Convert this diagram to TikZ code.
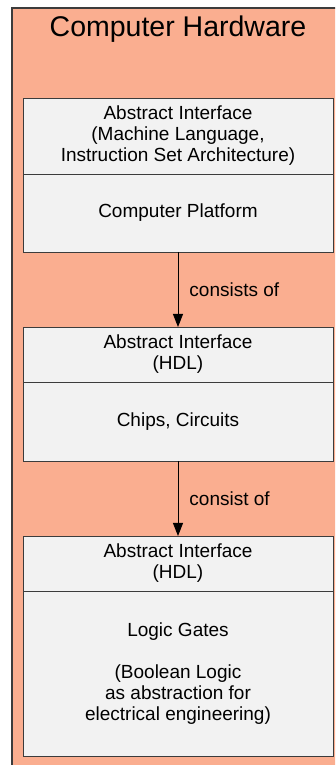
\documentclass[tikz,border=0pt]{standalone}
\usepackage{fontspec}
\setmainfont{Liberation Sans}
\usepackage{xcolor}
\usetikzlibrary{arrows.meta, positioning}
\definecolor{hwbg}{RGB}{250,174,144}
\definecolor{boxbg}{RGB}{242,242,242}
\definecolor{edgegray}{RGB}{60,60,60}

\begin{document}
\begin{tikzpicture}[
    x=1pt, y=1pt,
    node distance=75pt,
    layer/.style={rectangle, draw=edgegray, fill=hwbg, line width=1.3pt},
    part/.style={rectangle, draw=edgegray, fill=boxbg, line width=0.9pt, minimum width=310pt, align=center, font=\fontsize{19}{21}\selectfont, inner sep=0pt, outer sep=0pt},
    arrow/.style={-{Triangle[width=10pt,length=13pt]}, line width=0.9pt},
    lbl/.style={font=\fontsize{19}{21}\selectfont, inner sep=11pt}
]
    \useasboundingbox (0,0) rectangle (335,765);
    \clip (0,0) rectangle (335,765);

    % Outer frame
    \draw[layer] (12,757) rectangle (350,-10);
    \node[font=\fontsize{28.5}{32}\selectfont] (title) at (178,736) {Computer Hardware};

    % Computer platform
    \node[part, minimum height=76pt, anchor=north] (head1) at (178,667) {Abstract Interface\\(Machine Language,\\Instruction Set Architecture)};
    \node[part, minimum height=78pt, below=0pt of head1] (body1) {Computer Platform};

    % Chips
    \node[part, minimum height=55pt, below=of body1] (head2) {Abstract Interface\\(HDL)};
    \node[part, minimum height=79pt, below=0pt of head2] (body2) {Chips, Circuits};

    % Logic gates
    \node[part, minimum height=55pt, below=of body2] (head3) {Abstract Interface\\(HDL)};
    \node[part, minimum height=165pt, below=0pt of head3] (body3) {Logic Gates\\[21pt](Boolean Logic\\as abstraction for\\electrical engineering)};

    % Connections
    \draw[arrow] (body1) -- node[lbl, right] {consists of} (head2);
    \draw[arrow] (body2) -- node[lbl, right] {consist of} (head3);
\end{tikzpicture}
\end{document}
